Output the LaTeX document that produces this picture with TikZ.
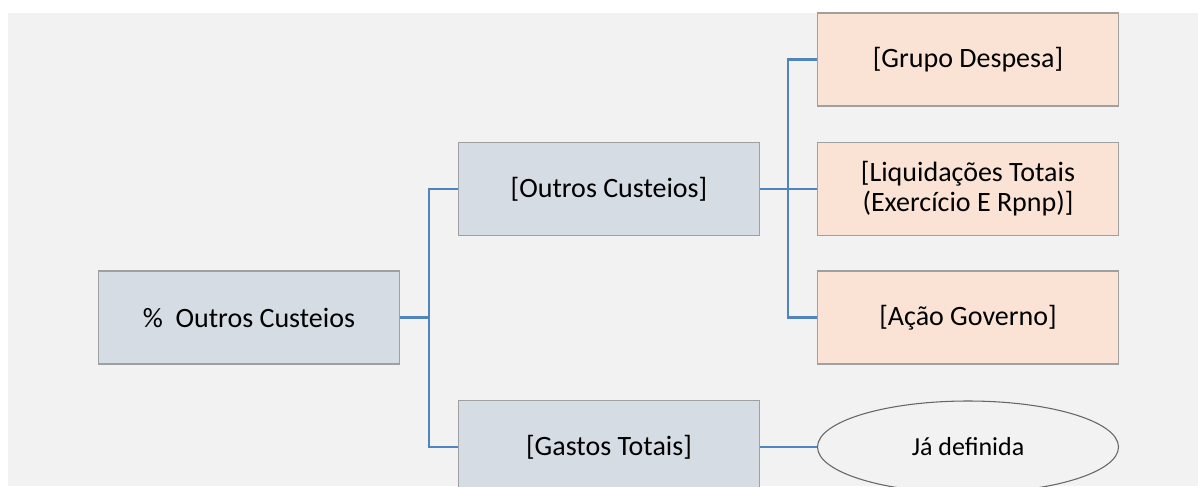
\documentclass[tikz,border=0pt]{standalone}
\usepackage{fontspec}
\setmainfont{Carlito}
\usetikzlibrary{shapes.geometric}
\definecolor{bgc}{HTML}{F2F2F2}
\definecolor{bluebox}{HTML}{D6DCE4}
\definecolor{peach}{HTML}{FAE3D5}
\definecolor{edgec}{HTML}{A0A0A0}
\definecolor{linec}{HTML}{4F84BD}
\tikzset{
  px/.style={x=0.75pt,y=-0.75pt},
  boxbase/.style={draw=edgec,line width=0.9pt,minimum width=225.75pt,minimum height=69.75pt,inner sep=0pt,align=center,font=\fontsize{21}{22.5}\selectfont},
  bluenode/.style={boxbase,fill=bluebox},
  peachnode/.style={boxbase,fill=peach},
  ovalnode/.style={ellipse,draw=black!60,line width=0.8pt,fill=bgc,minimum width=225.75pt,minimum height=69pt,inner sep=0pt,font=\fontsize{19.5}{21}\selectfont},
  conn/.style={draw=linec,line width=1.7pt}
}
\begin{document}
\begin{tikzpicture}[px]
\useasboundingbox (0,0) rectangle (1198,486);
\clip (0,0) rectangle (1198,486);
\fill[white] (0,0) rectangle (1198,486);
\fill[bgc] (8,13) rectangle (1198,486);
\node[bluenode] (root) at (249,317.5) {\%\ \ Outros Custeios};
\node[bluenode] (oc) at (609,189) {[Outros Custeios]};
\node[bluenode] (gt) at (609,447) {[Gastos Totais]};
\node[peachnode] (gd) at (968,59.5) {[Grupo Despesa]};
\node[peachnode] (lt) at (968,189) {[Liquidações Totais\\(Exercício E Rpnp)]};
\node[peachnode] (ag) at (968,317.5) {[Ação Governo]};
\node[ovalnode] (jd) at (968,447) {Já definida};
\coordinate (t1) at (429,317.5);
\coordinate (t2) at (788,189);
\draw[conn] (root.east) -- (t1);
\draw[conn] (t1) |- (oc.west);
\draw[conn] (t1) |- (gt.west);
\draw[conn] (oc.east) -- (lt.west);
\draw[conn] (t2) |- (gd.west);
\draw[conn] (t2) |- (ag.west);
\draw[conn] (gt.east) -- (jd.west);
\end{tikzpicture}
\end{document}
